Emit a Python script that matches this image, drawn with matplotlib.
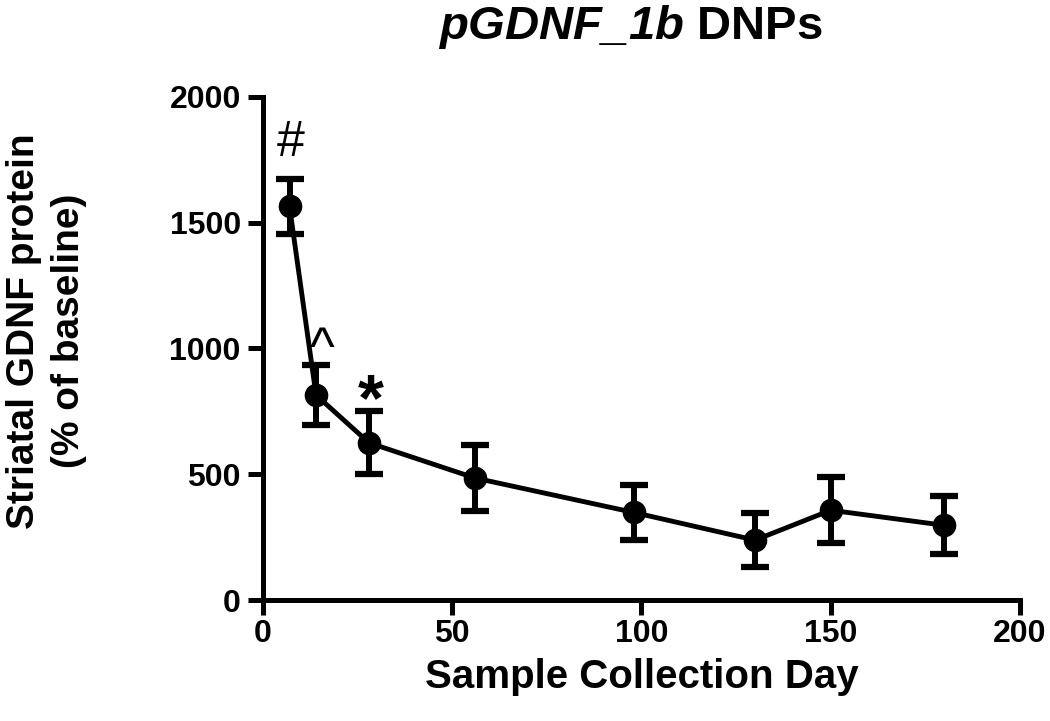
import matplotlib.pyplot as plt

plt.rcParams['font.family'] = 'Liberation Sans'
plt.rcParams['mathtext.fontset'] = 'custom'
plt.rcParams['mathtext.bfit'] = 'Liberation Sans:italic:bold'
plt.rcParams['mathtext.rm'] = 'Liberation Sans:bold'

# Data
days = [7, 14, 28, 56, 98, 130, 150, 180]
gdnf = [1565, 815, 625, 485, 348, 238, 357, 297]
sem = [110, 120, 125, 130, 109, 108, 131, 115]

# significance markers (symbol, day, baseline value)
sig_labels = ['#', '^', '*']
sig_days = [7.4, 15.6, 28.5]
sig_y = [1765, 935, 715]
sig_size = [36, 38, 48]
sig_weight = ['normal', 'normal', 'bold']

fig = plt.figure(figsize=(10.5, 7.21), dpi=100)
ax = fig.add_axes([0.2505, 0.1678, 0.7209, 0.6977])

ax.errorbar(days, gdnf, yerr=sem, color='black', lw=3.5, marker='o', markersize=16,
            capsize=10, capthick=4.5, elinewidth=4.3)

for lab, x, y, s, w in zip(sig_labels, sig_days, sig_y, sig_size, sig_weight):
    ax.text(x, y, lab, ha='center', va='baseline', fontsize=s, fontweight=w)

ax.set_xlim(0, 200)
ax.set_ylim(0, 2000)
ax.set_xticks([0, 50, 100, 150, 200])
ax.set_yticks([0, 500, 1000, 1500, 2000])
for side in ['top', 'right']:
    ax.spines[side].set_visible(False)
for side in ['left', 'bottom']:
    ax.spines[side].set_linewidth(3.6)
ax.tick_params(width=3.6, length=11)
ax.tick_params(axis='y', labelsize=23, pad=5)
ax.tick_params(axis='x', labelsize=23, pad=3)
for lbl in ax.get_xticklabels() + ax.get_yticklabels():
    lbl.set_fontweight('bold')

ax.set_xlabel('Sample Collection Day', fontsize=29, fontweight='bold', labelpad=6)
ax.set_ylabel('Striatal GDNF protein\n(% of baseline)', fontsize=28, fontweight='bold',
              linespacing=1.3)
ax.yaxis.set_label_coords(-0.233, 0.535)
fig.text(0.6, 0.962, r'$\mathbfit{pGDNF\_1b}$ DNPs', ha='center', va='center',
         fontsize=34, fontweight='bold')

fig.savefig('out.png', dpi=100)
